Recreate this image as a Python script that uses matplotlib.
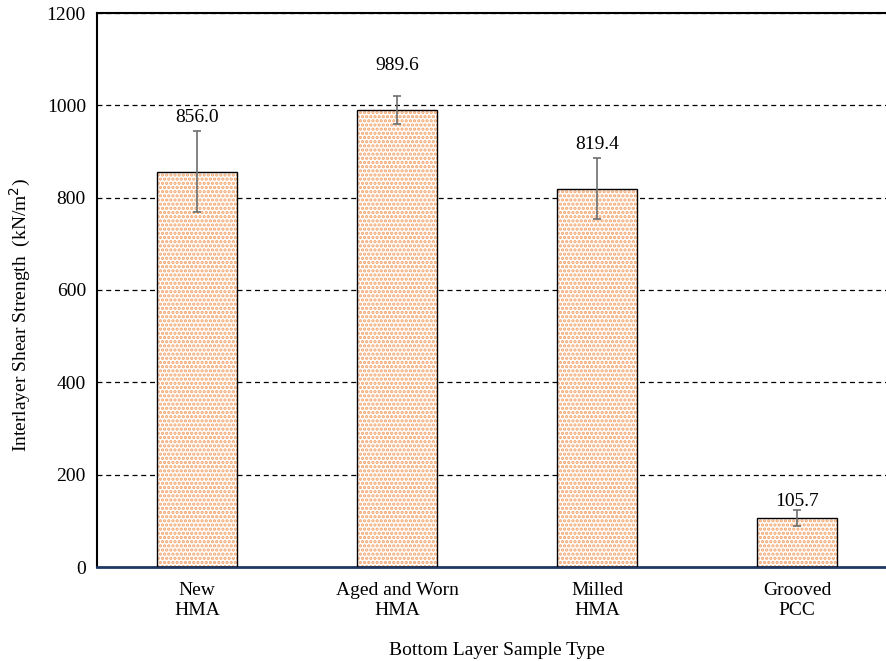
import matplotlib.pyplot as plt
import numpy as np

categories = ['New\nHMA', 'Aged and Worn\nHMA', 'Milled\nHMA', 'Grooved\nPCC']
strength = [856.0, 989.6, 819.4, 105.7]
errors = [88, 30, 66, 17]
label_offsets = [4, 16, 4, 0]  # points above error bar top

plt.rcParams['font.family'] = ['Liberation Serif', 'DejaVu Serif']
plt.rcParams['hatch.linewidth'] = 1.6

fig = plt.figure(figsize=(8.86, 6.61), dpi=100)
ax = fig.add_axes([97 / 886, 94 / 661, 800 / 886, 554 / 661])

x = np.arange(len(categories))
# dotted fill, then the black outline on top
ax.bar(x, strength, width=0.4, color='white', edgecolor='#f2a36b',
       hatch='....', linewidth=0, zorder=2)
ax.bar(x, strength, width=0.4, fill=False, edgecolor='black',
       linewidth=1.0, zorder=3)
ax.errorbar(x, strength, yerr=errors, fmt='none', ecolor='#6e6e6e',
            elinewidth=1.2, capsize=3, capthick=1.2, zorder=4)

for xi, v, e, off in zip(x, strength, errors, label_offsets):
    ax.annotate(f'{v:.1f}', (xi, v + e), xytext=(0, off),
                textcoords='offset points', ha='center', va='bottom',
                fontsize=14)

ax.set_xlim(-0.5, 3.5)
ax.set_ylim(0, 1200)
ax.set_yticks(range(0, 1201, 200))
ax.set_xticks(x)
ax.set_xticklabels(categories, fontsize=14, linespacing=1.2)
ax.tick_params(axis='both', length=0, labelsize=14)
ax.tick_params(axis='x', pad=11)
ax.tick_params(axis='y', pad=8)

ax.yaxis.grid(True, linestyle=(0, (4, 3)), color='black', linewidth=0.9, zorder=0)
ax.set_axisbelow(True)
ax.spines['right'].set_visible(False)
ax.spines['top'].set_linewidth(1.5)
ax.spines['left'].set_linewidth(1.5)
ax.spines['bottom'].set_color('#1f3864')
ax.spines['bottom'].set_linewidth(2)

ax.set_ylabel('Interlayer Shear Strength  (kN/m$^2$)', fontsize=14)
ax.yaxis.set_label_coords(-0.0795, 0.455)
ax.set_xlabel('Bottom Layer Sample Type', fontsize=14, labelpad=17)

fig.savefig('out.png', dpi=100)
